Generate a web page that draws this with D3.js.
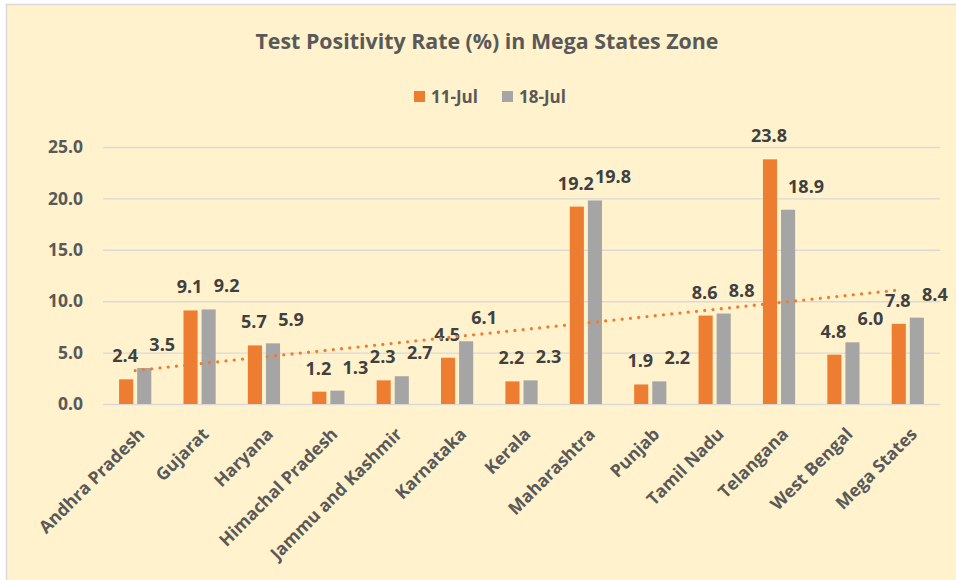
<!DOCTYPE html>
<html>
<head>
<meta charset="utf-8">
<script src="https://cdn.jsdelivr.net/npm/d3@7"></script>
<style>
  body { margin: 0; background: #ffffff; }
  svg { display: block; }
  svg text { font-family: "Open Sans", "Noto Sans", sans-serif; }
</style>
</head>
<body>
<svg id="chart-svg"></svg>
<script>
const states = ["Andhra Pradesh", "Gujarat", "Haryana", "Himachal Pradesh", "Jammu and Kashmir",
    "Karnataka", "Kerala", "Maharashtra", "Punjab", "Tamil Nadu", "Telangana", "West Bengal", "Mega States"];
const jul11 = [2.4, 9.1, 5.7, 1.2, 2.3, 4.5, 2.2, 19.2, 1.9, 8.6, 23.8, 4.8, 7.8];
const jul18 = [3.5, 9.2, 5.9, 1.3, 2.7, 6.1, 2.3, 19.8, 2.2, 8.8, 18.9, 6.0, 8.4];
const seriesNames = ["11-Jul", "18-Jul"];
const yTicks = [0, 5, 10, 15, 20, 25];
const chartTitle = "Test Positivity Rate (%) in Mega States Zone";

const width = 956;
const height = 580;
const colors = { "11-Jul": "#ED7D31", "18-Jul": "#A5A5A5" };

let svg = d3.select("#chart-svg")
    .attr("width", width)
    .attr("height", height);

// chart background + border
svg.append("rect")
    .attr("x", 6.5)
    .attr("y", 4.5)
    .attr("width", width + 20)
    .attr("height", height + 20)
    .attr("fill", "#FFF2CC")
    .attr("stroke", "#D9D9D9")
    .attr("stroke-width", 1.5);

const margin = { top: 147, right: 16, bottom: 176, left: 103 };
const chartWidth = width - margin.left - margin.right;
const chartHeight = height - margin.top - margin.bottom;

let chart = svg.append("g")
    .attr("transform", "translate(" + margin.left + "," + margin.top + ")");

let x0 = d3.scaleBand()
    .domain(states)
    .range([0, chartWidth])
    .paddingInner(0.5)
    .paddingOuter(0.25);

let x1 = d3.scaleBand()
    .domain(seriesNames)
    .range([0, x0.bandwidth()])
    .paddingInner(0.22);

let yScale = d3.scaleLinear()
    .domain([0, 25])
    .range([chartHeight, 0]);

// y axis with gridlines
let yAxis = chart.append("g")
    .attr("class", "y-axis")
    .call(d3.axisLeft(yScale)
        .tickValues(yTicks)
        .tickFormat(d3.format(".1f"))
        .tickSizeInner(-chartWidth)
        .tickSizeOuter(0)
        .tickPadding(20));
yAxis.attr("font-family", null);
yAxis.select(".domain").remove();
yAxis.selectAll("line")
    .attr("stroke", "#D9D9D9")
    .attr("stroke-width", 1.4);
yAxis.selectAll("text")
    .style("font-size", "17.5px")
    .style("font-weight", "bold")
    .style("fill", "#595959");

// x axis labels
let xAxis = chart.append("g")
    .attr("class", "x-axis")
    .attr("transform", `translate(0,${chartHeight})`)
    .call(d3.axisBottom(x0).tickSize(0).tickPadding(0));
xAxis.attr("font-family", null);
xAxis.select(".domain").remove();
xAxis.selectAll("text")
    .attr("y", 0)
    .attr("dy", "0.35em")
    .attr("transform", "translate(6,27) rotate(-45)")
    .attr("text-anchor", "end")
    .style("font-size", "17.5px")
    .style("font-weight", "bold")
    .style("fill", "#595959");

// bars
const tableData = states.map((s, i) => ({ state: s, values: [
    { key: "11-Jul", value: jul11[i] },
    { key: "18-Jul", value: jul18[i] }
]}));

let groups = chart.selectAll(".group")
    .data(tableData)
    .enter().append("g")
    .attr("class", "group")
    .attr("transform", d => `translate(${x0(d.state)},0)`);

groups.selectAll("rect")
    .data(d => d.values)
    .enter().append("rect")
    .attr("x", d => x1(d.key))
    .attr("y", d => yScale(d.value))
    .attr("width", x1.bandwidth())
    .attr("height", d => chartHeight - yScale(d.value))
    .attr("fill", d => colors[d.key]);

// data labels
groups.selectAll(".bar-label")
    .data(d => d.values)
    .enter().append("text")
    .attr("class", "bar-label")
    .attr("x", d => x1(d.key) + x1.bandwidth() / 2 + (d.key === "18-Jul" ? 18 : -1))
    .attr("y", d => yScale(d.value) - 17)
    .attr("text-anchor", "middle")
    .style("font-size", "18px")
    .style("font-weight", "bold")
    .style("fill", "#404040")
    .text(d => d3.format(".1f")(d.value));

// linear trendline on 11-Jul
const xs = jul11.map((v, i) => i + 1);
const xMean = d3.mean(xs);
const yMean = d3.mean(jul11);
const slope = d3.sum(xs, (xv, i) => (xv - xMean) * (jul11[i] - yMean))
    / d3.sum(xs, xv => Math.pow(xv - xMean, 2));
const intercept = yMean - slope * xMean;
const first = states[0], last = states[states.length - 1];

chart.append("line")
    .attr("class", "trend-line")
    .attr("x1", x0(first) + x0.bandwidth() / 2)
    .attr("y1", yScale(slope * 1 + intercept))
    .attr("x2", x0(last) + x0.bandwidth() / 2 - 5)
    .attr("y2", yScale(slope * states.length + intercept))
    .attr("stroke", "#ED7D31")
    .attr("stroke-width", 3.3)
    .attr("stroke-linecap", "round")
    .attr("stroke-dasharray", "0 8.3");

// title
let title = svg.append("text")
    .attr("x", 487)
    .attr("y", 49)
    .attr("text-anchor", "middle")
    .style("font-size", "22px")
    .style("font-weight", "bold")
    .style("fill", "#595959")
    .text(chartTitle);
if (title.node().getComputedTextLength() > 463) {
    title.attr("textLength", 463).attr("lengthAdjust", "spacingAndGlyphs");
}

// legend
const legendX = [414, 502];
let legend = svg.append("g").attr("class", "legend");
seriesNames.forEach((name, i) => {
    legend.append("rect")
        .attr("x", legendX[i])
        .attr("y", 91)
        .attr("width", 11)
        .attr("height", 11)
        .attr("fill", colors[name]);
    legend.append("text")
        .attr("x", legendX[i] + 17)
        .attr("y", 103)
        .style("font-size", "17px")
        .style("font-weight", "bold")
        .style("fill", "#595959")
        .text(name);
});
</script>
</body>
</html>
